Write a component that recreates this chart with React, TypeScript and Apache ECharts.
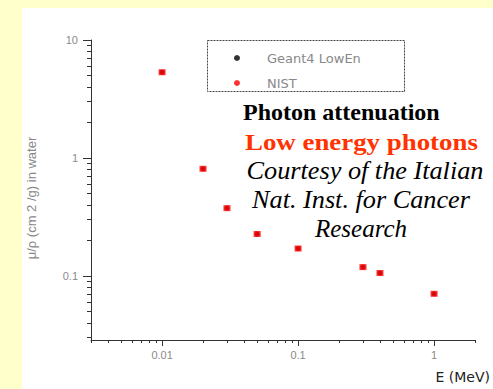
import React, { useEffect, useRef } from 'react';
import * as echarts from 'echarts';

const energies = [0.01, 0.02, 0.03, 0.05, 0.1, 0.3, 0.4, 1];
const nistMu = [5.33, 0.81, 0.376, 0.227, 0.171, 0.119, 0.106, 0.0707];
const geant4Mu = [5.33, 0.81, 0.376, 0.227, 0.171, 0.119, 0.106, 0.0707];

const xMajorTicks = [0.01, 0.1, 1];
const xMinorTicks = [0.003, 0.004, 0.005, 0.006, 0.007, 0.008, 0.009, 0.02, 0.03, 0.04, 0.05, 0.06, 0.07, 0.08, 0.09, 0.2, 0.3, 0.4, 0.5, 0.6, 0.7, 0.8, 0.9, 2];
const yMajorTicks = [0.1, 1, 10];
const yMinorTicks = [0.03, 0.04, 0.05, 0.06, 0.07, 0.08, 0.09, 0.2, 0.3, 0.4, 0.5, 0.6, 0.7, 0.8, 0.9, 2, 3, 4, 5, 6, 7, 8, 9];
const xTickLabels = ['0.01', '0.1', '1'];
const yTickLabels = ['0.1', '1', '10'];

const titleLines = ['Photon attenuation', 'Low energy photons'];
const creditLines = ['Courtesy of the Italian', 'Nat. Inst. for Cancer', 'Research'];

const fmt = (vals: number[], labels: string[]) => (v: number) => {
  for (let i = 0; i < vals.length; i++) {
    if (Math.abs(v - vals[i]) / vals[i] < 1e-6) return labels[i];
  }
  return '';
};

export default function App() {
  const ref = useRef<HTMLDivElement>(null);
  useEffect(() => {
    if (!ref.current) return;
    const chart = echarts.init(ref.current, undefined, { renderer: 'svg' });
    const axisColor = '#333';
    const labelColor = '#8a8a8a';
    chart.setOption({
      animation: false,
      backgroundColor: 'transparent',
      grid: { left: 91, top: 40, right: 18, bottom: 49, containLabel: false },
      legend: {
        orient: 'vertical',
        left: 229,
        top: 46,
        itemWidth: 6,
        itemHeight: 6,
        itemGap: 11,
        selectedMode: false,
        textStyle: { color: '#888', fontSize: 13, fontFamily: 'DejaVu Sans', lineHeight: 14, padding: [0, 0, 0, 22] },
        data: [
          { name: 'Geant4 LowEn', icon: 'circle', itemStyle: { color: '#000' } },
          { name: 'NIST', icon: 'circle', itemStyle: { color: '#ff0000' } },
        ],
      },
      xAxis: [
        {
          type: 'log',
          logBase: 10,
          min: 0.003,
          max: 2,
          position: 'bottom',
          name: 'E (MeV)',
          nameLocation: 'end',
          nameGap: 15,
          nameTextStyle: { color: '#222', fontSize: 14, fontFamily: 'DejaVu Sans', align: 'right', verticalAlign: 'top', padding: [30, 0, 0, 0] },
          axisLine: { show: true, onZero: false, lineStyle: { color: axisColor, width: 1 } },
          axisTick: { show: true, length: 6, customValues: xMajorTicks, lineStyle: { color: axisColor } },
          axisLabel: { customValues: xMajorTicks, formatter: fmt(xMajorTicks, xTickLabels), color: labelColor, fontSize: 11, fontFamily: 'Liberation Sans', margin: 9 },
          splitLine: { show: false },
        },
        {
          type: 'log',
          logBase: 10,
          min: 0.003,
          max: 2,
          position: 'top',
          offset: -300,
          axisLine: { show: false, onZero: false },
          axisTick: { show: true, inside: true, length: 3, customValues: xMinorTicks, lineStyle: { color: axisColor } },
          axisLabel: { show: false },
          splitLine: { show: false },
        },
      ],
      yAxis: [
        {
          type: 'log',
          logBase: 10,
          min: 0.0287,
          max: 10,
          position: 'left',
          name: 'μ/ρ (cm 2 /g) in water',
          nameLocation: 'middle',
          nameGap: 53,
          nameTextStyle: { color: '#888', fontSize: 13, fontFamily: 'Liberation Sans', padding: [0, 16, 0, 0] },
          axisLine: { show: true, onZero: false, lineStyle: { color: axisColor, width: 1 } },
          axisTick: { show: true, length: 8, customValues: yMajorTicks, lineStyle: { color: axisColor } },
          axisLabel: { customValues: yMajorTicks, formatter: fmt(yMajorTicks, yTickLabels), color: labelColor, fontSize: 11, fontFamily: 'Liberation Sans', margin: 13 },
          splitLine: { show: false },
        },
        {
          type: 'log',
          logBase: 10,
          min: 0.0287,
          max: 10,
          position: 'right',
          offset: -384,
          axisLine: { show: false, onZero: false },
          axisTick: { show: true, inside: true, length: 4, customValues: yMinorTicks, lineStyle: { color: axisColor } },
          axisLabel: { show: false },
          splitLine: { show: false },
        },
      ],
      series: [
        {
          name: 'Geant4 LowEn',
          type: 'scatter',
          xAxisIndex: 0,
          yAxisIndex: 0,
          symbol: 'circle',
          symbolSize: 5,
          itemStyle: { color: '#000' },
          data: energies.map((e, i) => [e, geant4Mu[i]]),
          z: 2,
        },
        {
          name: 'NIST',
          type: 'scatter',
          xAxisIndex: 0,
          yAxisIndex: 0,
          symbol: 'rect',
          symbolSize: [7, 6],
          itemStyle: { color: '#ff0000' },
          data: energies.map((e, i) => [e, nistMu[i]]),
          z: 3,
        },
      ],
      graphic: [
        { type: 'rect', z: -10, silent: true, shape: { x: 22, y: 8, width: 471, height: 381 }, style: { fill: '#ffffff' } },
        { type: 'rect', z: 1, silent: true, shape: { x: 207.5, y: 40.5, width: 197, height: 51 }, style: { fill: 'none', stroke: '#444', lineWidth: 1, lineDash: [2, 1] } },
        {
          type: 'text', x: 243, y: 112, scaleX: 1, z: 5,
          style: { text: titleLines[0], fill: '#000', fontSize: 24, fontWeight: 'bold', fontFamily: 'Liberation Serif', align: 'left', verticalAlign: 'middle', textAlign: 'left', textVerticalAlign: 'middle' },
        },
        {
          type: 'text', x: 245, y: 142, scaleX: 1.12, z: 5,
          style: { text: titleLines[1], fill: '#ff3300', fontSize: 24, fontWeight: 'bold', fontFamily: 'Liberation Serif', align: 'left', verticalAlign: 'middle', textAlign: 'left', textVerticalAlign: 'middle' },
        },
        {
          type: 'text', x: 365, y: 171, scaleX: 1.05, z: 5,
          style: { text: creditLines[0], fill: '#000', fontSize: 25, fontStyle: 'italic', fontFamily: 'Liberation Serif', align: 'center', verticalAlign: 'middle', textAlign: 'center', textVerticalAlign: 'middle' },
        },
        {
          type: 'text', x: 361, y: 200, scaleX: 1.05, z: 5,
          style: { text: creditLines[1], fill: '#000', fontSize: 25, fontStyle: 'italic', fontFamily: 'Liberation Serif', align: 'center', verticalAlign: 'middle', textAlign: 'center', textVerticalAlign: 'middle' },
        },
        {
          type: 'text', x: 361, y: 228, scaleX: 1.0, z: 5,
          style: { text: creditLines[2], fill: '#000', fontSize: 25, fontStyle: 'italic', fontFamily: 'Liberation Serif', align: 'center', verticalAlign: 'middle', textAlign: 'center', textVerticalAlign: 'middle' },
        },
      ],
    });
    return () => chart.dispose();
  }, []);
  return (
    <div
      ref={ref}
      style={{ position: 'fixed', left: 0, top: 0, width: 493, height: 389, background: '#ffffcc' }}
    />
  );
}
